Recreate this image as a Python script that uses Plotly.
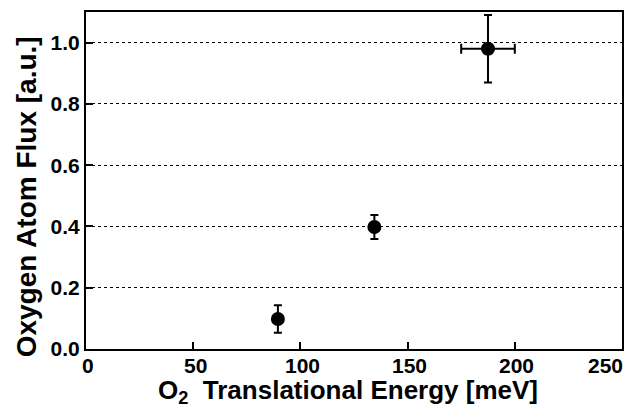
import plotly.graph_objects as go

energy = [89.5, 134.5, 187.5]
energy_err = [0, 0, 12.5]
flux = [0.098, 0.398, 0.980]
flux_err = [0.045, 0.039, 0.11]

x_ticks = [0, 50, 100, 150, 200, 250]
x_labels = ["0", "50", "100", "150", "200", "250"]
y_ticks = [0.0, 0.2, 0.4, 0.6, 0.8, 1.0]
y_labels = ["0.0", "0.2", "0.4", "0.6", "0.8", "1.0"]

x_title = "O<sub>2</sub>&nbsp; Translational Energy [meV]"
y_title = "Oxygen Atom Flux [a.u.]"

font_family = "Liberation Sans, Arial, sans-serif"

fig = go.Figure()
fig.add_trace(go.Scatter(
    x=energy, y=flux, mode="markers",
    marker=dict(size=14, color="black", symbol="circle"),
    error_y=dict(type="data", array=flux_err, color="black", thickness=2, width=4),
    error_x=dict(type="data", array=energy_err, color="black", thickness=2, width=5),
    showlegend=False,
))

# x tick labels (last one kept inside the frame, as in the reference)
for i, (v, t) in enumerate(zip(x_ticks, x_labels)):
    last = i == len(x_ticks) - 1
    fig.add_annotation(
        x=v, xref="x", y=0, yref="paper", text="<b>" + t + "</b>", showarrow=False,
        xanchor="right" if last else "center", xshift=3 if last else 2,
        yanchor="middle", yshift=-16,
        font=dict(size=21, family=font_family, color="black", weight="bold"),
    )

fig.add_annotation(
    x=0.488, xref="paper", y=0, yref="paper", text="<b>" + x_title + "</b>",
    showarrow=False, xanchor="center", yanchor="middle", yshift=-42,
    font=dict(size=26, family=font_family, color="black", weight="bold"),
)
fig.add_annotation(
    x=0, xref="paper", y=0.45, yref="paper", text="<b>" + y_title + "</b>",
    showarrow=False, xanchor="center", yanchor="middle", xshift=-60, textangle=-90,
    font=dict(size=28, family=font_family, color="black", weight="bold"),
)

fig.update_layout(
    width=632, height=407,
    margin=dict(l=86, r=10, t=12, b=58, autoexpand=False),
    plot_bgcolor="white", paper_bgcolor="white",
    font=dict(family=font_family, color="black"),
    xaxis=dict(
        range=[0, 250], tickvals=x_ticks, showticklabels=False, ticks="inside",
        ticklen=7, tickwidth=2, tickcolor="black", showline=True, linewidth=2,
        linecolor="black", mirror=True, showgrid=False, zeroline=False, automargin=False,
    ),
    yaxis=dict(
        range=[0, 1.1], tickvals=y_ticks, ticktext=["<b>" + s + "</b>" for s in y_labels],
        ticks="inside", ticklen=7, tickwidth=2, tickcolor="black", showline=True,
        linewidth=2, linecolor="black", mirror=True, showgrid=True, gridcolor="black",
        gridwidth=1, griddash="dot", zeroline=False, automargin=False,
        tickfont=dict(size=21, family=font_family, color="black", weight="bold"),
    ),
)

fig.write_html(
    "out.html",
    config={"displayModeBar": False},
    post_script="document.body.style.margin='0px';document.body.style.overflow='hidden';",
)
